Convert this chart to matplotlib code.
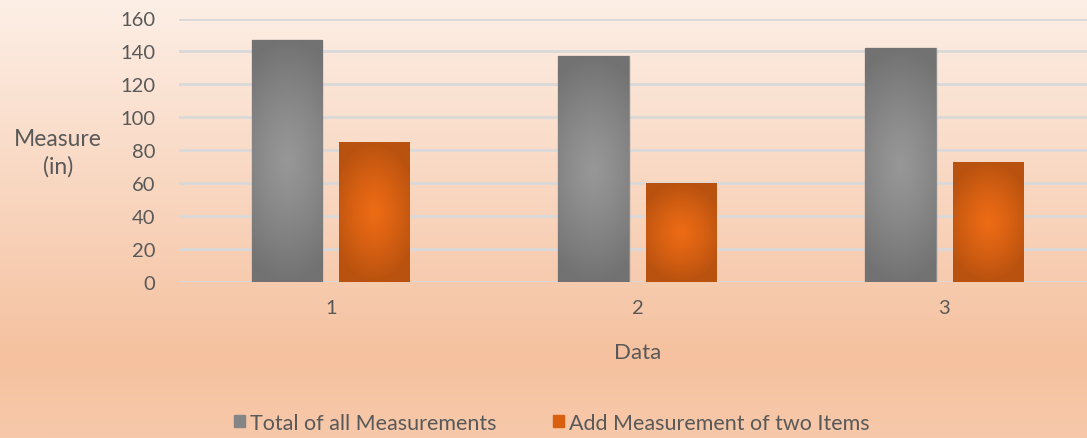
import numpy as np
import matplotlib
matplotlib.use("Agg")
import matplotlib.pyplot as plt
from matplotlib.colors import to_rgb
from matplotlib.patches import Rectangle

categories = ["1", "2", "3"]
total_all = [147, 137, 142]
add_two = [85, 60, 73]
series_names = ["Total of all Measurements", "Add Measurement of two Items"]
y_ticks = [0, 20, 40, 60, 80, 100, 120, 140, 160]

text_color = "#595959"
plt.rcParams["font.family"] = ["Lato", "DejaVu Sans"]

fig = plt.figure(figsize=(10.87, 4.39), dpi=100)

# background: vertical peach gradient (darkest a bit above the bottom)
bg = fig.add_axes([0, 0, 1, 1], zorder=-10)
stops = [(0.0, "#fdefe6"), (0.82, "#f5c19f"), (1.0, "#f7c9aa")]
t = np.linspace(0, 1, 400)
grad = np.zeros((len(t), 3))
for k in range(3):
    grad[:, k] = np.interp(t, [s[0] for s in stops], [to_rgb(s[1])[k] for s in stops])
bg.imshow(grad[:, None, :].repeat(2, axis=1), aspect="auto", extent=[0, 1, 0, 1])
bg.set_axis_off()

ax = fig.add_axes([179 / 1087, 156 / 439, (1087 - 179) / 1087, 263.5 / 439])
ax.patch.set_alpha(0)

x = np.arange(1, len(categories) + 1)
w = 0.23
off = 0.143
bars1 = ax.bar(x - off, total_all, w, color="#858585", edgecolor="#8e8e8e", linewidth=1,
               zorder=3, label=series_names[0])
bars2 = ax.bar(x + off, add_two, w, color="#d9600f", zorder=3, label=series_names[1])


def radial_fill(bars, center, edge, xscale):
    cc = np.array(to_rgb(center))
    ec = np.array(to_rgb(edge))
    for b in bars:
        x0, y0 = b.get_x(), b.get_y()
        bw, bh = b.get_width(), b.get_height()
        xx, yy = np.meshgrid(np.linspace(-1, 1, 80), np.linspace(-1, 1, 200))
        r = np.clip(np.hypot(xx * xscale, yy), 0, 1) ** 1.2
        img = cc * (1 - r[..., None]) + ec * r[..., None]
        im = ax.imshow(img, extent=[x0, x0 + bw, y0, y0 + bh], aspect="auto", zorder=4,
                       interpolation="bilinear")
        im.set_clip_path(b)


radial_fill(bars1, "#979797", "#727272", 0.55)
radial_fill(bars2, "#ed6b15", "#b9520f", 0.8)

ax.set_xlim(0.505, 3.466)
ax.set_ylim(0, 160)
ax.set_yticks(y_ticks)
ax.set_xticks(x)
ax.set_xticklabels(categories)
ax.yaxis.grid(True, color="#d9d9d9", linewidth=2, zorder=1)
ax.set_axisbelow(True)
for s in ax.spines.values():
    s.set_visible(False)
ax.tick_params(length=0, colors=text_color, labelsize=14.5)
ax.tick_params(axis="y", pad=17)
ax.tick_params(axis="x", pad=12)

fig.text(58 / 1087, 1 - 153 / 439, "Measure\n(in)", ha="center", va="center",
         fontsize=16.5, color=text_color, linespacing=1.35)
fig.text(638 / 1087, 1 - 353 / 439, "Data", ha="center", va="center",
         fontsize=16, color=text_color)

handles = [Rectangle((0, 0), 1, 1, color="#858585"), Rectangle((0, 0), 1, 1, color="#d9600f")]
fig.legend(handles, series_names, loc="center", bbox_to_anchor=(552 / 1087, 1 - 424 / 439),
           ncol=2, frameon=False, fontsize=15.5, labelcolor=text_color,
           handlelength=0.5, handleheight=0.5, handletextpad=0.25, columnspacing=2.6)

fig.savefig("out.png", dpi=100)
